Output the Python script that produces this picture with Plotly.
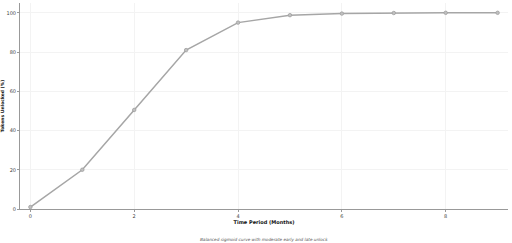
import plotly.graph_objects as go

months = [0, 1, 2, 3, 4, 5, 6, 7, 8, 9]
unlocked = [1, 20, 50.5, 81, 95, 98.8, 99.6, 99.9, 100, 100]
x_ticks = [0, 2, 4, 6, 8]
y_ticks = [0, 20, 40, 60, 80, 100]

fig = go.Figure()
fig.add_trace(go.Scatter(
    x=months, y=unlocked, mode="lines+markers",
    line=dict(color="#a6a6a6", width=1.5),
    marker=dict(size=3.5, color="#c0c0c0", line=dict(color="#a0a0a0", width=0.8)),
    showlegend=False,
))

fig.update_layout(
    width=512, height=243,
    margin=dict(l=20, r=4, t=3, b=34),
    paper_bgcolor="white", plot_bgcolor="white",
    font=dict(family="DejaVu Sans", size=5, color="#444"),
    annotations=[dict(
        text="<i>Balanced sigmoid curve with moderate early and late unlock</i>",
        x=0.5, y=0, xref="paper", yref="paper", yanchor="top", xanchor="center",
        yshift=-26, showarrow=False, font=dict(size=4.2, color="#555"),
    )],
)
fig.update_xaxes(
    range=[-0.2, 9.2], tickvals=x_ticks, ticks="outside", ticklen=2, tickcolor="#999",
    showline=True, linecolor="#999", linewidth=1, automargin=False,
    showgrid=True, gridcolor="#f3f3f3", gridwidth=0.5, zeroline=False,
    title=dict(text="<b>Time Period (Months)</b>", font=dict(size=5, color="#111"), standoff=1),
)
fig.update_yaxes(
    range=[0, 105], tickvals=y_ticks, ticks="outside", ticklen=2, tickcolor="#999",
    showline=True, linecolor="#999", linewidth=1, automargin=False,
    showgrid=True, gridcolor="#f3f3f3", gridwidth=0.5, zeroline=False,
    title=dict(text="<b>Tokens Unlocked (%)</b>", font=dict(size=4.5, color="#111"), standoff=3),
)

fig.write_html("out.html")
